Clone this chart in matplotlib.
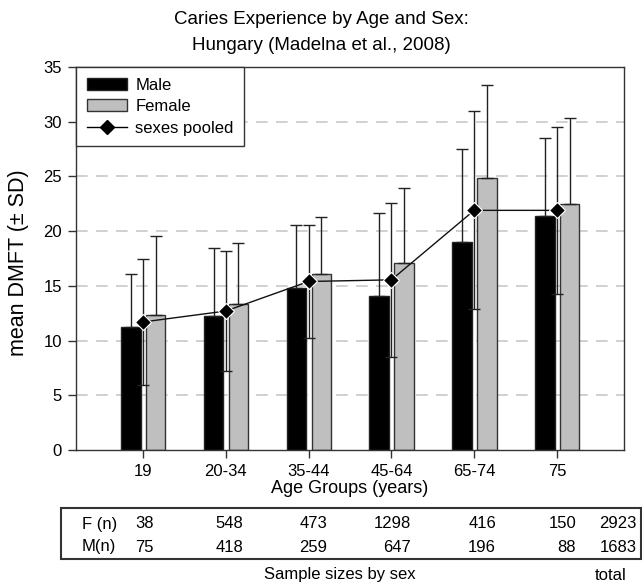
import numpy as np
import matplotlib
matplotlib.use('Agg')
import matplotlib.pyplot as plt
from matplotlib.patches import Patch, Rectangle
from matplotlib.lines import Line2D

plt.rcParams['font.family'] = ['Liberation Sans', 'DejaVu Sans']

# Data
age_groups = ['19', '20-34', '35-44', '45-64', '65-74', '75']
male_mean = [11.2, 12.2, 14.8, 14.1, 19.0, 21.4]
male_sd = [4.9, 6.3, 5.8, 7.6, 8.5, 7.1]
female_mean = [12.3, 13.3, 16.1, 17.1, 24.85, 22.45]
female_sd = [7.25, 5.6, 5.2, 6.85, 8.55, 7.85]
pooled_mean = [11.7, 12.7, 15.4, 15.55, 21.9, 21.9]
pooled_sd = [5.75, 5.5, 5.15, 7.05, 9.05, 7.6]

n_female = [38, 548, 473, 1298, 416, 150]
n_male = [75, 418, 259, 647, 196, 88]
total_female = 2923
total_male = 1683

W, H = 642, 586
fig = plt.figure(figsize=(W / 100, H / 100), dpi=100)
ax = fig.add_axes([76 / W, 1 - 450 / H, (624 - 76) / W, (450 - 67) / H])

x = np.arange(len(age_groups))
bw = 0.235
zeros = np.zeros(len(x))

ax.bar(x - 0.147, male_mean, bw, color='black', edgecolor='#222222', linewidth=1, zorder=2)
ax.bar(x + 0.153, female_mean, bw, color='#bfbfbf', edgecolor='#333333', linewidth=1, zorder=2)
ax.errorbar(x - 0.147, male_mean, yerr=[zeros, male_sd], fmt='none', ecolor='#222222',
            elinewidth=1, capsize=4.5, capthick=1, zorder=3)
ax.errorbar(x + 0.153, female_mean, yerr=[zeros, female_sd], fmt='none', ecolor='#222222',
            elinewidth=1, capsize=4.5, capthick=1, zorder=3)
ax.errorbar(x, pooled_mean, yerr=pooled_sd, fmt='none', ecolor='#222222',
            elinewidth=1, capsize=4.5, capthick=1, zorder=3)
ax.plot(x, pooled_mean, color='#111111', linewidth=1, marker='D', markersize=8,
        markerfacecolor='black', markeredgecolor='white', markeredgewidth=0.8, zorder=4)

ax.set_xlim(-0.81, 5.81)
ax.set_ylim(0, 35)
ax.set_yticks(range(0, 36, 5))
ax.set_xticks(x)
ax.set_xticklabels(age_groups)
ax.tick_params(labelsize=12, length=6, width=1, color='#333333', pad=4)
for yv in range(5, 35, 5):
    ax.axhline(yv, color='#c8c8c8', linestyle=(0, (7, 5)), linewidth=1.2, zorder=0)
for s in ax.spines.values():
    s.set_color('#333333')
    s.set_linewidth(1)

ax.set_ylabel('mean DMFT (± SD)', fontsize=15.5)
ax.yaxis.set_label_coords(-0.085, 0.49)
ax.set_xlabel('Age Groups (years)', fontsize=13, labelpad=1)

fig.text(321 / W, 1 - 20 / H, 'Caries Experience by Age and Sex:', ha='center', va='center', fontsize=13.5)
fig.text(321 / W, 1 - 46 / H, 'Hungary (Madelna et al., 2008)', ha='center', va='center', fontsize=13.5)

handles = [Patch(facecolor='black', edgecolor='#222222'),
           Patch(facecolor='#bfbfbf', edgecolor='#333333'),
           Line2D([], [], color='black', linewidth=1, marker='D', markersize=7)]
leg = ax.legend(handles, ['Male', 'Female', 'sexes pooled'], loc='upper left',
                borderaxespad=0, fancybox=False, framealpha=1, edgecolor='#333333',
                fontsize=12, handlelength=2.4, handleheight=0.72, labelspacing=0.38,
                handletextpad=0.5, borderpad=0.65)
leg.get_frame().set_linewidth(1)
leg.set_zorder(5)

# sample size table under the chart
fig.add_artist(Rectangle((61 / W, 1 - 559 / H), (641 - 61) / W, (559 - 508) / H,
                         transform=fig.transFigure, fill=False, edgecolor='#333333', linewidth=1.5))
col_right = [154, 243, 327, 411, 496, 576]
fig.text(82 / W, 1 - 524 / H, 'F (n)', ha='left', va='center', fontsize=12)
fig.text(82 / W, 1 - 547 / H, 'M(n)', ha='left', va='center', fontsize=12)
for cx, nf, nm in zip(col_right, n_female, n_male):
    fig.text(cx / W, 1 - 524 / H, str(nf), ha='right', va='center', fontsize=12)
    fig.text(cx / W, 1 - 547 / H, str(nm), ha='right', va='center', fontsize=12)
fig.text(637 / W, 1 - 524 / H, str(total_female), ha='right', va='center', fontsize=12)
fig.text(637 / W, 1 - 547 / H, str(total_male), ha='right', va='center', fontsize=12)
fig.text(340 / W, 1 - 575 / H, 'Sample sizes by sex', ha='center', va='center', fontsize=12)
fig.text(611 / W, 1 - 575 / H, 'total', ha='center', va='center', fontsize=12)

fig.savefig('out.png', dpi=100)
